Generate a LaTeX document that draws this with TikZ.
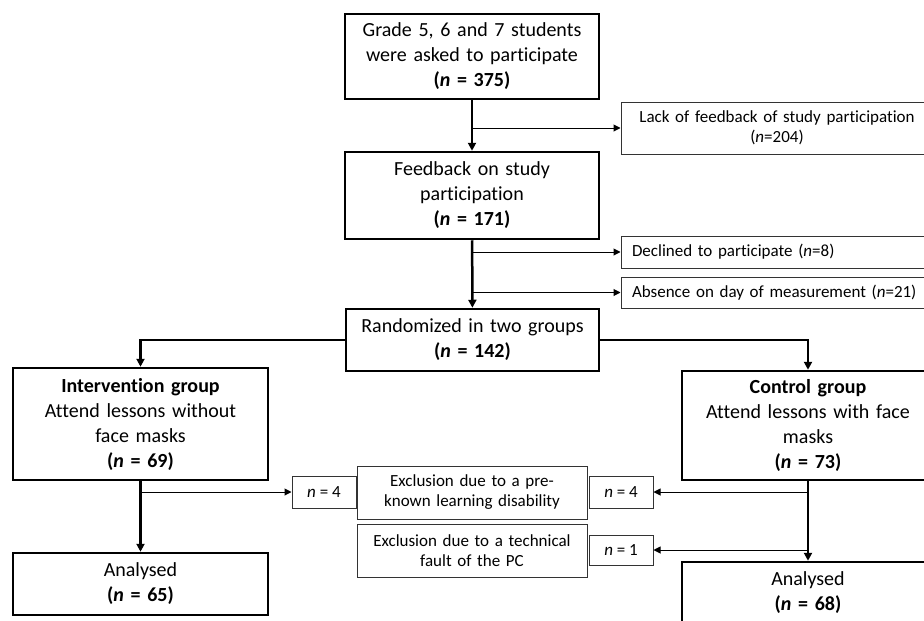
\documentclass[tikz,border=0pt]{standalone}
\usepackage{fontspec}
\setmainfont{Carlito}[Ligatures={NoCommon}]
\usetikzlibrary{positioning}
\usetikzlibrary{arrows.meta}
\tikzset{>=Triangle}

\begin{document}
\begin{tikzpicture}
	[x=1pt,y=-1pt,
	mainbox/.style={draw,line width=2.5pt,align=center,inner sep=0pt,font=\fontsize{20}{25}\selectfont},
	sidebox/.style={draw=black!80,line width=1pt,align=center,inner sep=0pt,font=\fontsize{17}{20}\selectfont},
	flow/.style={line width=2.5pt,-{Triangle[width=8pt,length=8pt]}},
	branch/.style={line width=1pt,-{Triangle[width=7pt,length=7pt]}}]
	\clip (0,0) rectangle (924,621);
	% main column
	\node [mainbox,minimum width=254,minimum height=85,text width=250] (grade) at (472,56.5) {Grade 5, 6 and 7 students\\were asked to participate\\\textbf{(\textit{n} = 375)}};
	\node [mainbox,minimum width=254,minimum height=87,text width=250] (feedback) at (472,195.5) {Feedback on study\\participation\\\textbf{(\textit{n} = 171)}};
	\node [mainbox,minimum width=253,minimum height=62,text width=249] (random) at (472.5,340) {Randomized in two groups\\\textbf{(\textit{n} = 142)}};
	% groups
	\node [mainbox,minimum width=255,minimum height=112,text width=251] (interv) at (140.5,424) {\textbf{Intervention group}\\Attend lessons without\\face masks\\\textbf{(\textit{n} = 69)}};
	\node [mainbox,minimum width=252,minimum height=109,text width=248] (control) at (808,425.5) {\textbf{Control group}\\Attend lessons with face\\masks\\\textbf{(\textit{n} = 73)}};
	\node [mainbox,minimum width=255,minimum height=62,text width=251] (analysedL) at (140.5,584) {Analysed\\\textbf{(\textit{n} = 65)}};
	\node [mainbox,minimum width=252,minimum height=62,text width=248] (analysedR) at (808,593) {Analysed\\\textbf{(\textit{n} = 68)}};
	% exclusions
	\node [sidebox,minimum width=312,minimum height=52,text width=308] (lack) at (777,128) {Lack of feedback of study participation\\(\textit{n}=204)};
	\node [sidebox,minimum width=312,minimum height=32,text width=290,inner xsep=11pt,align=left] (declined) at (777,252) {Declined to participate (\textit{n}=8)};
	\node [sidebox,minimum width=312,minimum height=31,text width=290,inner xsep=11pt,align=left] (absence) at (777,292.5) {Absence on day of measurement (\textit{n}=21)};
	\node [sidebox,minimum width=230,minimum height=53,text width=226] (exclA) at (472,492.5) {Exclusion due to a pre-\\known learning disability};
	\node [sidebox,minimum width=230,minimum height=53,text width=226] (exclB) at (472,550.5) {Exclusion due to a technical\\fault of the PC};
	\node [sidebox,minimum width=64,minimum height=32] (nfourL) at (324,492) {\textit{n} = 4};
	\node [sidebox,minimum width=64,minimum height=32] (nfourR) at (621,492) {\textit{n} = 4};
	\node [sidebox,minimum width=64,minimum height=30] (none) at (621,550) {\textit{n} = 1};
	% connectors
	\draw[flow] (grade) -- (feedback);
	\draw[branch] (grade.south |- lack.west) -- (lack.west);
	\draw[flow] (feedback) -- (random);
	\draw[branch] (feedback.south |- declined.west) -- (declined.west);
	\draw[branch] (feedback.south |- absence.west) -- (absence.west);
	\draw[flow] (random.west) -| (interv.north);
	\draw[flow] (random.east) -| (control.north);
	\draw[flow] (interv) -- (analysedL);
	\draw[branch] (interv.south |- nfourL.west) -- (nfourL.west);
	\draw[flow] (control) -- (analysedR);
	\draw[branch] (control.south |- nfourR.east) -- (nfourR.east);
	\draw[branch] (control.south |- none.east) -- (none.east);
\end{tikzpicture}
\end{document}
